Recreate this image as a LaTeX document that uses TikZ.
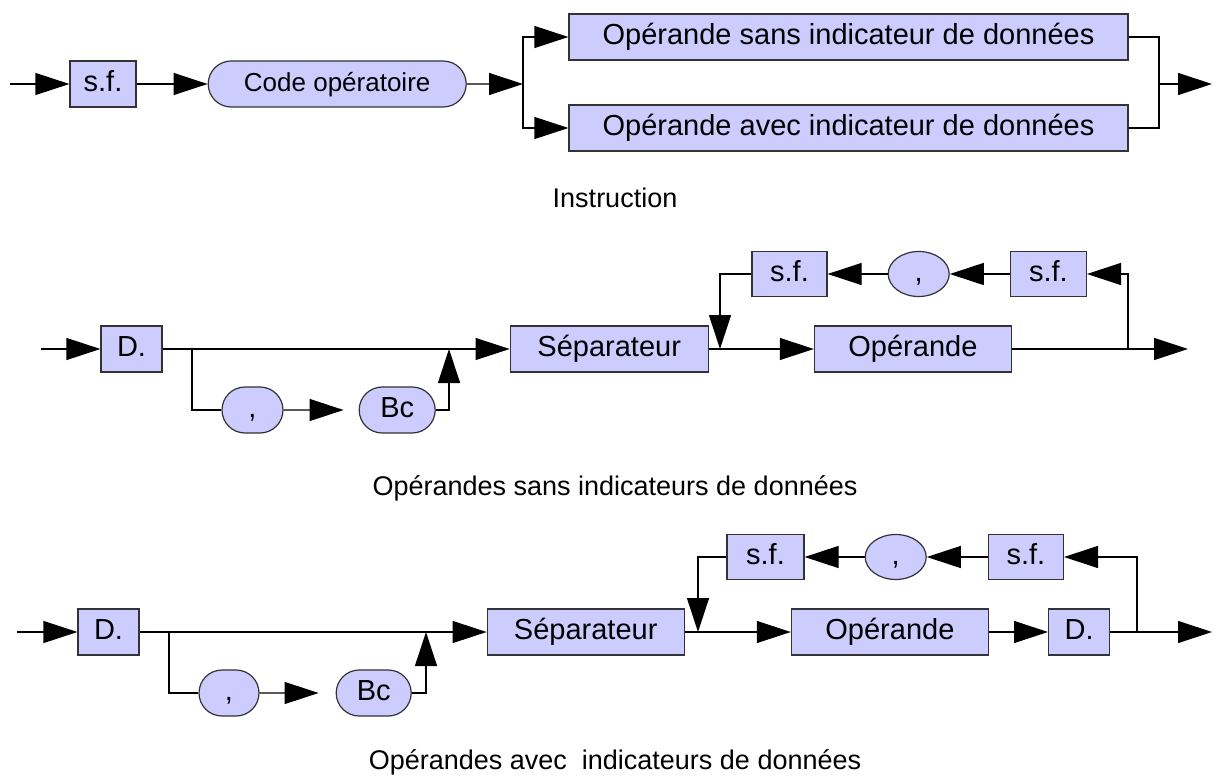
\documentclass[tikz,border=0pt]{standalone}
\usepackage{fontspec}
\setmainfont{Liberation Sans}
\usetikzlibrary{arrows.meta,positioning,shapes.misc,shapes.geometric}
\definecolor{boxfill}{RGB}{204,204,255}
\definecolor{boxline}{RGB}{51,51,51}
\newcommand{\diagfont}{\fontsize{29}{33}\selectfont}
\newcommand{\smallfont}{\fontsize{26}{30}\selectfont}
\newcommand{\capfont}{\fontsize{27}{31}\selectfont}

\begin{document}
\begin{tikzpicture}[x=1pt,y=-1pt,>={Triangle[length=34pt,width=22pt]},line width=1.2pt,
    every node/.style={font=\diagfont,inner sep=0pt,text height=21pt,text depth=6pt},
    term/.style={rectangle,draw=boxline,fill=boxfill,minimum height=46pt},
    lit/.style={rounded rectangle,draw=boxline,fill=boxfill,minimum height=46pt},
    sym/.style={ellipse,draw=boxline,fill=boxfill,minimum height=45pt}]
  \useasboundingbox (0,0) rectangle (1216,781);

  % Instruction
  \node (sf1) [term,minimum width=66pt] at (103,84) {s.f.};
  \node (code) [lit,minimum width=258pt,font=\smallfont,right=71pt of sf1] {Code opératoire};
  \node (opsans) [term,minimum width=559pt] at (848.5,37) {Opérande sans indicateur de données};
  \node (opavec) [term,minimum width=559pt] at (848.5,128) {Opérande avec indicateur de données};
  \coordinate (in1) at (10,84);
  \coordinate (split) at (523,84);
  \coordinate (join) at (1159,84);
  \coordinate (out1) at (1212,84);
  \draw[->] (in1) -- (sf1);
  \draw[->] (sf1) -- (code);
  \draw[->] (code) -- (split);
  \draw[->] (split) |- (opsans);
  \draw[->] (split) |- (opavec);
  \draw (opsans) -| (join);
  \draw (opavec) -| (join);
  \draw[->] (join) -- (out1);
  \node (cap1) [font=\capfont] at (615,200) {Instruction};

  % sans indicateurs
  \node (d2) [term,minimum width=61pt] at (131.5,349) {D.};
  \node (sep2) [term,minimum width=198pt,right=347pt of d2] {Séparateur};
  \node (oper2) [term,minimum width=197pt,right=105pt of sep2] {Opérande};
  \node (comma2) [lit,minimum width=61pt] at (252.5,410) {,};
  \node (bc2) [lit,minimum width=76pt,right=75pt of comma2] {Bc};
  \node (sfa2) [term,minimum width=75pt,minimum height=45pt] at (789.5,274) {s.f.};
  \node (virg2) [sym,minimum width=61pt,right=60pt of sfa2] {,};
  \node (sfb2) [term,minimum width=76pt,minimum height=45pt,right=60pt of virg2] {s.f.};
  \coordinate (in2) at (41,349);
  \coordinate (skip2) at (192,349);
  \coordinate (back2) at (449,349);
  \coordinate (loopin2) at (720,349);
  \coordinate (loopout2) at (1128,349);
  \coordinate (out2) at (1188,349);
  \draw[->] (in2) -- (d2);
  \draw[->] (d2) -- (sep2);
  \draw (skip2) |- (comma2);
  \draw[->,shorten >=15pt] (comma2) -- (bc2);
  \draw[->] (bc2) -| (back2);
  \draw[->] (sep2) -- (oper2);
  \draw[->] (oper2) -- (out2);
  \draw[->] (loopout2) |- (sfb2);
  \draw[->] (sfb2) -- (virg2);
  \draw[->] (virg2) -- (sfa2);
  \draw[->] (sfa2) -| (loopin2);
  \node (cap2) [font=\capfont] at (615,488) {Opérandes sans indicateurs de données};

  % avec indicateurs
  \node (d3) [term,minimum width=61pt] at (108.5,632) {D.};
  \node (sep3) [term,minimum width=197pt,right=347pt of d3] {Séparateur};
  \node (oper3) [term,minimum width=197pt,right=106pt of sep3] {Opérande};
  \node (dd3) [term,minimum width=61pt,right=59pt of oper3] {D.};
  \node (comma3) [lit,minimum width=60pt] at (229,693) {,};
  \node (bc3) [lit,minimum width=75pt,right=76pt of comma3] {Bc};
  \node (sfa3) [term,minimum width=77pt,minimum height=45pt] at (765.5,557) {s.f.};
  \node (virg3) [sym,minimum width=61pt,right=60pt of sfa3] {,};
  \node (sfb3) [term,minimum width=75pt,minimum height=45pt,right=61pt of virg3] {s.f.};
  \coordinate (in3) at (17,632);
  \coordinate (skip3) at (169,632);
  \coordinate (back3) at (426,632);
  \coordinate (loopin3) at (698,632);
  \coordinate (loopout3) at (1137,632);
  \coordinate (out3) at (1212,632);
  \draw[->] (in3) -- (d3);
  \draw[->] (d3) -- (sep3);
  \draw (skip3) |- (comma3);
  \draw[->,shorten >=17pt] (comma3) -- (bc3);
  \draw[->] (bc3) -| (back3);
  \draw[->] (sep3) -- (oper3);
  \draw[->] (oper3) -- (dd3);
  \draw[->] (dd3) -- (out3);
  \draw[->] (loopout3) |- (sfb3);
  \draw[->] (sfb3) -- (virg3);
  \draw[->] (virg3) -- (sfa3);
  \draw[->] (sfa3) -| (loopin3);
  \node (cap3) [font=\capfont] at (615,762) {Opérandes avec\ \ indicateurs de données};
\end{tikzpicture}
\end{document}
